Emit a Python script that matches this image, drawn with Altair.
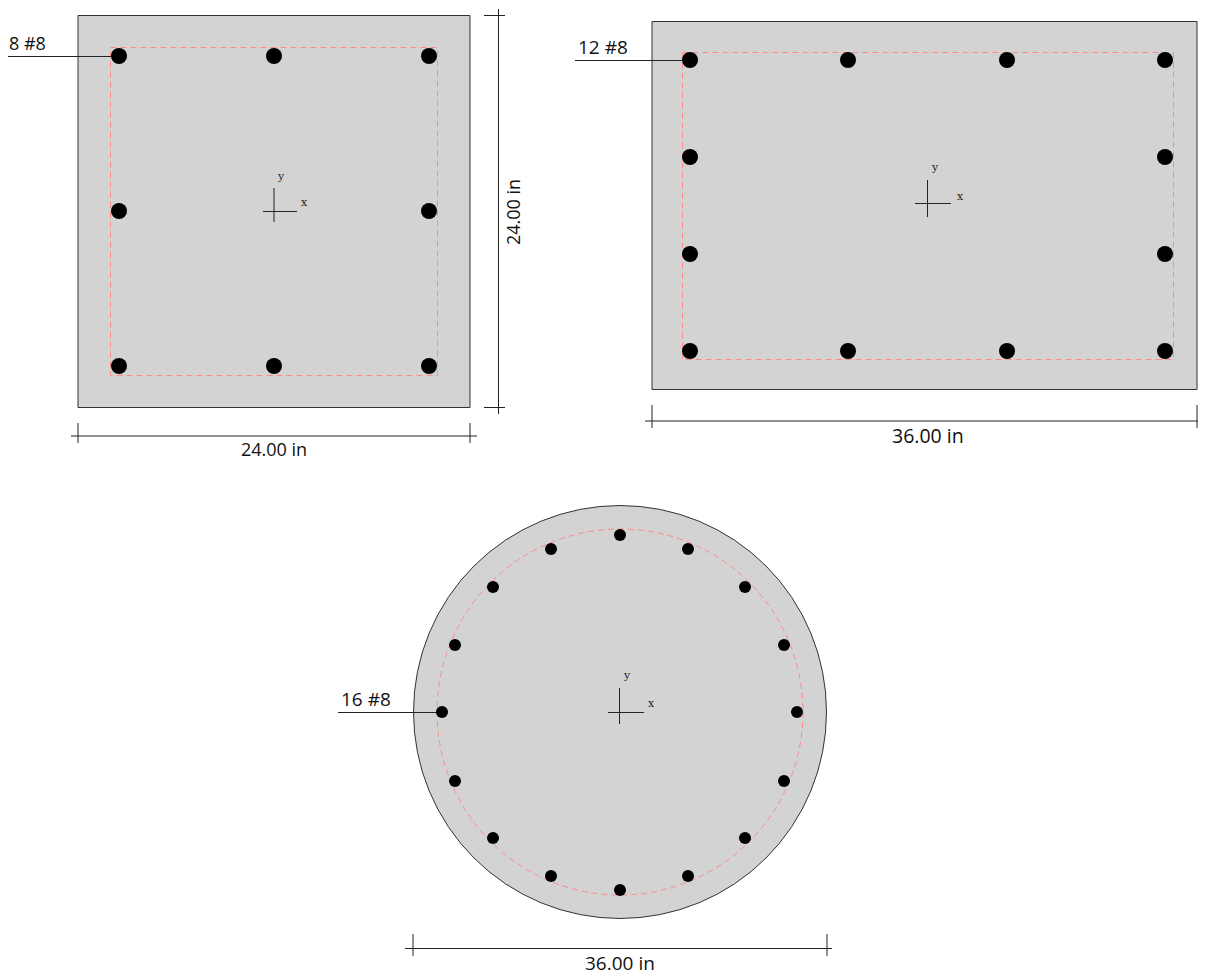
import altair as alt
import pandas as pd

# Drawing coordinates (1 unit = 1 picture pixel).
# The drawable page ends at x = 1198, so the rightmost edge of the second
# section and its dimension tick sit at 1197 rather than the reference's 1203.
sections_x = [78, 652]
sections_x2 = [470, 1197]
sections_y = [15.5, 21.5]
sections_y2 = [407.5, 389.5]

ties_x = [110.5, 682.5]
ties_x2 = [437.5, 1173.5]
ties_y = [47.5, 52.5]
ties_y2 = [375.5, 359.5]

bars_a_x = [119, 274, 429, 119, 429, 119, 274, 429]
bars_a_y = [56, 56, 56, 211, 211, 366, 366, 366]
bars_b_x = [690, 848, 1007, 1165, 690, 1165, 690, 1165, 690, 848, 1007, 1165]
bars_b_y = [60, 60, 60, 60, 157, 157, 254, 254, 351, 351, 351, 351]
bars_c_x = [620, 688, 745, 784, 797, 784, 745, 688, 620, 551, 493, 455, 442, 455, 493, 551]
bars_c_y = [535, 549, 587, 645, 712, 781, 838, 876, 890, 876, 838, 781, 712, 645, 587, 549]

circle_x = [620]
circle_y = [712]

# x1, x2, y1, y2
seg_x1 = [263, 274, 915, 927.5, 608, 619.5,
          7, 575, 338,
          498.5, 484, 484,
          71, 78, 470,
          645, 652, 1197,
          405, 413, 827]
seg_x2 = [297, 274, 951, 927.5, 644, 619.5,
          111, 683, 437,
          498.5, 505, 505,
          477, 78, 470,
          1198, 652, 1197,
          832, 413, 827]
seg_y1 = [211.5, 188, 203.5, 180, 712.5, 688,
          56.5, 60.5, 712.5,
          9, 15.5, 407.5,
          436, 423, 423,
          421, 405, 405,
          948.5, 934, 934]
seg_y2 = [211.5, 222, 203.5, 217, 712.5, 724,
          56.5, 60.5, 712.5,
          414, 15.5, 407.5,
          436, 443, 443,
          421, 428, 428,
          948.5, 956, 956]

label_text = ["8 #8", "12 #8", "16 #8", "24.00 in", "36.00 in", "36.00 in"]
label_x = [9, 578, 341, 241, 892, 585]
label_y = [50, 54, 706, 456, 443, 970]
label_size = [18, 19, 19, 18, 19.5, 19]

xy_text = ["y", "x", "y", "x", "y", "x"]
xy_x = [281, 304, 935, 960, 627, 651]
xy_y = [180, 206, 171, 200, 679, 707]

side_text = ["24.00 in"]
side_x = [520]
side_y = [212]

X = alt.Scale(domain=[8, 1198], nice=False, zero=False)
Y = alt.Scale(domain=[974, 8], nice=False, zero=False)


def enc_xy(chart):
    return chart.encode(
        x=alt.X("x:Q", scale=X, axis=None),
        y=alt.Y("y:Q", scale=Y, axis=None),
    )


def rects(xs, x2s, ys, y2s):
    return pd.DataFrame({"x": xs, "x2": x2s, "y": ys, "y2": y2s})


rect_enc = dict(
    x=alt.X("x:Q", scale=X, axis=None),
    x2="x2:Q",
    y=alt.Y("y:Q", scale=Y, axis=None),
    y2="y2:Q",
)

sections = alt.Chart(rects(sections_x, sections_x2, sections_y, sections_y2)).mark_rect(
    fill="#d3d3d3", stroke="#333333", strokeWidth=1
).encode(**rect_enc)

ties = alt.Chart(rects(ties_x, ties_x2, ties_y, ties_y2)).mark_rect(
    fill="#d3d3d3", fillOpacity=0, stroke="#ff8a8a", strokeWidth=1, strokeDash=[6, 4]
).encode(**rect_enc)

circle_df = pd.DataFrame({"x": circle_x, "y": circle_y})
section_c = enc_xy(alt.Chart(circle_df).mark_point(
    shape="circle", size=413 ** 2, filled=True, fill="#d3d3d3", fillOpacity=1,
    stroke="#333333", strokeWidth=1, opacity=1
))
tie_c = enc_xy(alt.Chart(circle_df).mark_point(
    shape="circle", size=366 ** 2, filled=False, stroke="#ff8a8a", strokeWidth=1,
    strokeDash=[6, 4], opacity=1
))

bars_ab = enc_xy(alt.Chart(pd.DataFrame({
    "x": bars_a_x + bars_b_x, "y": bars_a_y + bars_b_y
})).mark_circle(size=16 ** 2, color="black", opacity=1))
bars_c = enc_xy(alt.Chart(pd.DataFrame({
    "x": bars_c_x, "y": bars_c_y
})).mark_circle(size=12 ** 2, color="black", opacity=1))

segments = alt.Chart(rects(seg_x1, seg_x2, seg_y1, seg_y2)).mark_rule(
    color="#222222", strokeWidth=1
).encode(**rect_enc)

labels = alt.Chart(pd.DataFrame({
    "x": label_x, "y": label_y, "t": label_text, "s": label_size
})).mark_text(
    align="left", baseline="alphabetic", font="Open Sans", color="#111111"
).encode(
    x=alt.X("x:Q", scale=X, axis=None),
    y=alt.Y("y:Q", scale=Y, axis=None),
    text="t:N",
    size=alt.Size("s:Q", scale=None, legend=None),
)

xy_labels = alt.Chart(pd.DataFrame({
    "x": xy_x, "y": xy_y, "t": xy_text
})).mark_text(
    align="center", baseline="alphabetic", font="DejaVu Serif", fontSize=11, color="#222222"
).encode(
    x=alt.X("x:Q", scale=X, axis=None),
    y=alt.Y("y:Q", scale=Y, axis=None),
    text="t:N",
)

side = alt.Chart(pd.DataFrame({
    "x": side_x, "y": side_y, "t": side_text
})).mark_text(
    align="center", baseline="alphabetic", font="Open Sans", fontSize=18, angle=270, color="#111111"
).encode(
    x=alt.X("x:Q", scale=X, axis=None),
    y=alt.Y("y:Q", scale=Y, axis=None),
    text="t:N",
)

chart = alt.layer(
    sections, section_c, ties, tie_c, segments, bars_ab, bars_c, labels, xy_labels, side
).properties(
    width=1190, height=966, padding=0,
    autosize=alt.AutoSizeParams(type="none"),
    background="white",
).configure_view(stroke=None)

chart.save("out.html", embed_options={"renderer": "svg", "actions": False})
